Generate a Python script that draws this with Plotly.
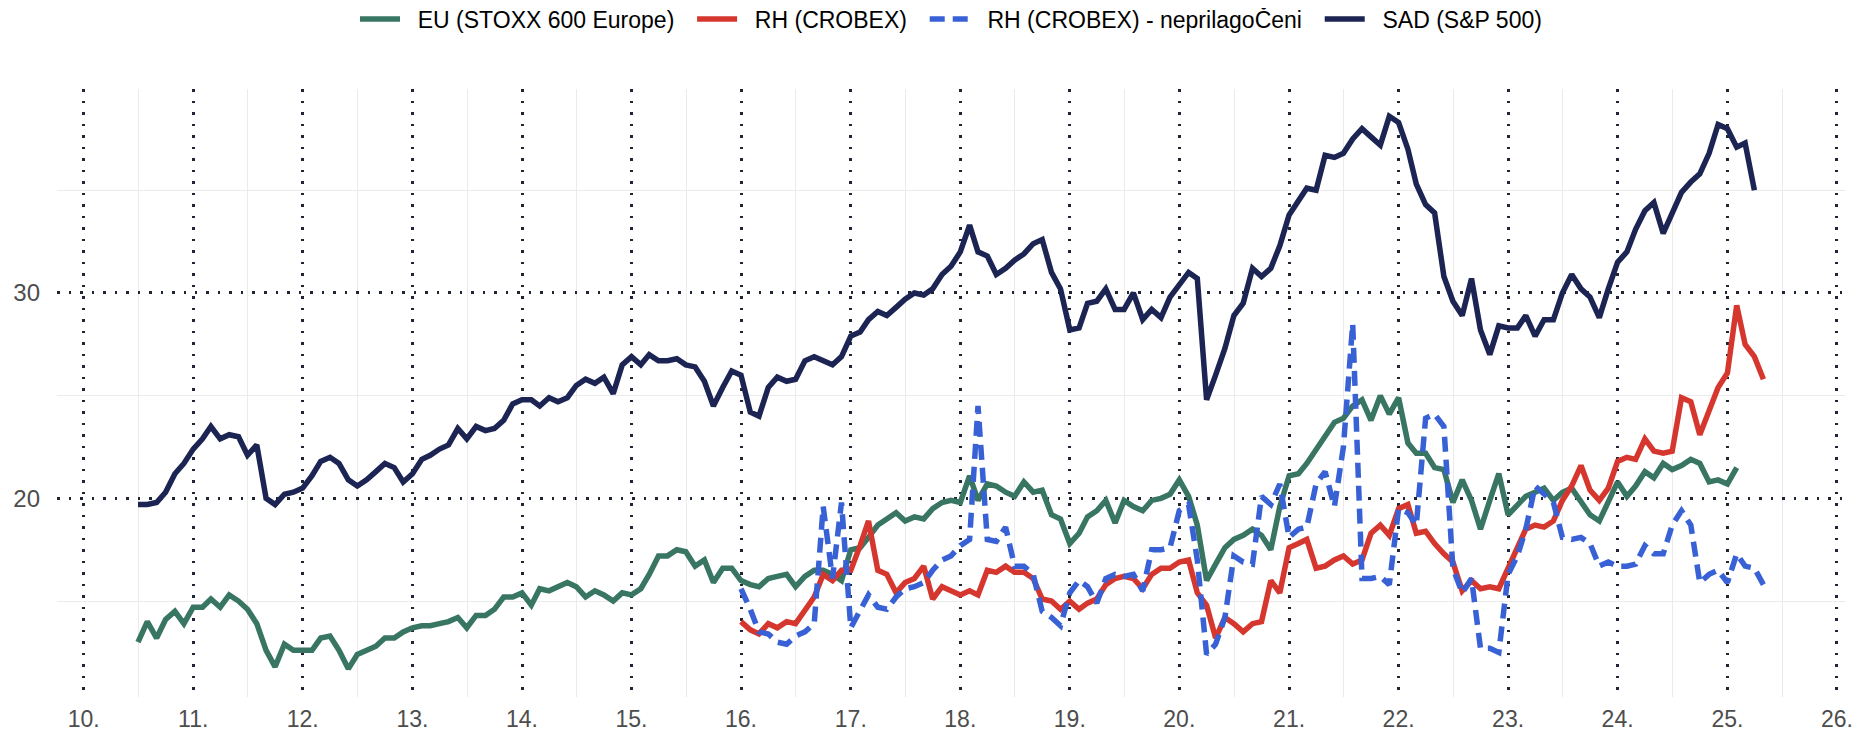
import pandas as pd
import plotly.graph_objects as go

# monthly values
# SAD (S&P 500): Jul 2010 - Apr 2025
sad_values = [
    19.7, 19.7, 19.8, 20.3, 21.2, 21.7,
    22.4, 22.9, 23.5, 22.9, 23.1, 23.0, 22.1, 22.6, 20.0, 19.7, 20.2, 20.3,
    20.5, 21.1, 21.8, 22.0, 21.7, 20.9, 20.6, 20.9, 21.3, 21.7, 21.5, 20.8,
    21.2, 21.9, 22.1, 22.4, 22.6, 23.4, 22.9, 23.5, 23.3, 23.4, 23.8, 24.6,
    24.8, 24.8, 24.5, 24.9, 24.7, 24.9, 25.5, 25.8, 25.6, 25.9, 25.1, 26.5,
    26.9, 26.5, 27.0, 26.7, 26.7, 26.8, 26.5, 26.4, 25.7, 24.5, 25.4, 26.2,
    26.0, 24.2, 24.0, 25.4, 25.9, 25.7, 25.8, 26.7, 26.9, 26.7, 26.5, 26.9,
    27.9, 28.1, 28.7, 29.1, 28.9, 29.3, 29.7, 30.0, 29.9, 30.2, 30.9, 31.3,
    32.0, 33.3, 32.0, 31.8, 30.9, 31.2, 31.6, 31.9, 32.4, 32.6, 31.0, 30.2,
    28.2, 28.3, 29.5, 29.6, 30.2, 29.2, 29.2, 30.0, 28.7, 29.2, 28.8, 29.8,
    30.4, 31.0, 30.7, 24.8, 26.0, 27.3, 28.9, 29.5, 31.2, 30.8, 31.2, 32.3,
    33.8, 34.5, 35.1, 35.0, 36.7, 36.6, 36.8, 37.5, 38.0, 37.6, 37.2, 38.6,
    38.3, 37.0, 35.3, 34.3, 33.9, 30.8, 29.6, 28.9, 30.7, 28.2, 27.0, 28.4,
    28.3, 28.3, 28.9, 27.9, 28.7, 28.7, 30.0, 30.9, 30.2, 29.8, 28.8, 30.2,
    31.5, 32.0, 33.1, 34.0, 34.4, 32.9, 33.9, 34.9, 35.4, 35.8, 36.8, 38.2,
    38.0, 37.1, 37.3, 35.0,
]

# EU (STOXX 600 Europe): Jul 2010 - Feb 2025
eu_values = [
    13.0, 14.0, 13.2, 14.1, 14.5, 13.9,
    14.7, 14.7, 15.1, 14.7, 15.3, 15.0, 14.6, 13.9, 12.6, 11.8, 12.9, 12.6,
    12.6, 12.6, 13.2, 13.3, 12.6, 11.7, 12.4, 12.6, 12.8, 13.2, 13.2, 13.5,
    13.7, 13.8, 13.8, 13.9, 14.0, 14.2, 13.7, 14.3, 14.3, 14.6, 15.2, 15.2,
    15.4, 14.8, 15.6, 15.5, 15.7, 15.9, 15.7, 15.2, 15.5, 15.3, 15.0, 15.4,
    15.3, 15.6, 16.3, 17.2, 17.2, 17.5, 17.4, 16.7, 17.0, 15.9, 16.6, 16.6,
    16.0, 15.8, 15.7, 16.1, 16.2, 16.3, 15.7, 16.2, 16.5, 16.5, 16.3, 16.0,
    17.5, 17.6, 18.1, 18.7, 19.0, 19.3, 18.9, 19.1, 19.0, 19.5, 19.8, 19.9,
    19.8, 21.1, 19.9, 20.7, 20.6, 20.3, 20.1, 20.8, 20.3, 20.4, 19.2, 19.0,
    17.8, 18.3, 19.1, 19.4, 19.9, 18.8, 19.9, 19.6, 19.4, 19.9, 20.0, 20.2,
    20.9, 20.1, 18.7, 16.0, 16.8, 17.6, 18.0, 18.2, 18.5, 18.2, 17.5, 19.6,
    21.1, 21.2, 21.7, 22.4, 23.1, 23.7, 23.9, 24.5, 24.8, 23.8, 25.0, 24.1,
    24.9, 22.7, 22.2, 22.2, 21.5, 21.4, 19.8, 20.9, 19.9, 18.5, 19.9, 21.2,
    19.2, 19.7, 20.1, 20.3, 20.5, 19.9, 20.3, 20.5, 19.8, 19.2, 18.9, 19.9,
    20.8, 20.1, 20.6, 21.3, 21.0, 21.7, 21.4, 21.6, 21.9, 21.7, 20.8, 20.9,
    20.7, 21.5,
]

# RH (CROBEX): Jan 2016 - May 2025
rh_values = [
    14.0, 13.6, 13.4, 13.9, 13.7, 14.0, 13.9, 14.6, 15.2, 16.3, 16.0, 16.5,
    16.5, 17.7, 18.9, 16.5, 16.3, 15.4, 15.9, 16.1, 16.7, 15.1, 15.7, 15.5,
    15.3, 15.5, 15.3, 16.5, 16.4, 16.7, 16.4, 16.4, 16.1, 15.1, 15.0, 14.6,
    15.0, 14.6, 14.9, 15.1, 15.8, 16.1, 16.2, 16.1, 15.6, 16.3, 16.6, 16.6,
    16.9, 17.0, 15.4, 14.8, 13.2, 14.2, 13.9, 13.5, 13.9, 14.0, 16.0, 15.4,
    17.6, 17.8, 18.0, 16.6, 16.7, 17.0, 17.2, 16.8, 17.0, 18.3, 18.7, 18.2,
    19.5, 19.7, 18.3, 18.4, 17.8, 17.3, 16.9, 15.5, 16.0, 15.6, 15.7, 15.6,
    16.6, 17.5, 18.5, 18.7, 18.6, 18.9, 19.9, 20.6, 21.6, 20.4, 19.9, 20.5,
    21.8, 22.0, 21.9, 22.9, 22.3, 22.2, 22.3, 24.9, 24.7, 23.1, 24.3, 25.4,
    26.1, 29.4, 27.5, 26.9, 25.8,
]

# RH (CROBEX) - neprilagoČeni: Jan 2016 - May 2025
rh_raw_values = [
    15.6, 14.6, 13.5, 13.4, 13.0, 12.9, 13.3, 13.5, 13.9, 19.6, 16.1, 19.8,
    13.7, 14.6, 15.3, 14.7, 14.6, 15.2, 15.6, 15.7, 15.9, 16.5, 17.0, 17.2,
    17.7, 18.0, 24.5, 18.0, 17.9, 18.6, 16.7, 16.7, 16.3, 14.5, 14.2, 13.8,
    15.4, 16.0, 15.7, 14.9, 16.1, 16.3, 16.2, 16.3, 15.5, 17.5, 17.5, 17.6,
    19.4, 19.7, 17.0, 12.4, 12.9, 14.2, 17.2, 16.9, 16.8, 20.1, 19.7, 20.7,
    18.1, 18.5, 18.6, 20.7, 21.3, 19.6, 22.5, 28.5, 16.1, 16.1, 16.2, 15.8,
    19.5, 19.3, 18.7, 23.9, 24.1, 23.5, 16.6, 15.4, 16.1, 12.7, 12.7, 12.5,
    16.3, 17.2, 18.5, 20.6, 20.2, 19.8, 18.1, 18.0, 18.1, 17.8, 16.7, 16.9,
    16.7, 16.7, 16.8, 17.7, 17.3, 17.3, 18.7, 19.4, 18.7, 15.9, 16.3, 16.5,
    15.9, 17.3, 16.7, 16.6, 15.8,
]

years = list(range(2010, 2027))
year_labels = [f"{y % 100}." for y in years]

sad_dates = pd.date_range("2010-07-01", periods=len(sad_values), freq="MS")
eu_dates = pd.date_range("2010-07-01", periods=len(eu_values), freq="MS")
rh_dates = pd.date_range("2016-01-01", periods=len(rh_values), freq="MS")
rh_raw_dates = pd.date_range("2016-01-01", periods=len(rh_raw_values), freq="MS")

# non-breaking spaces widen the legend entries like the original
pad_l = "\u00a0\u00a0"
pad_r = "\u00a0\u00a0"

fig = go.Figure()
fig.add_trace(go.Scatter(x=eu_dates, y=eu_values, mode="lines",
                         name=pad_l + "EU (STOXX 600 Europe)" + pad_r,
                         line=dict(color="#387563", width=5.5)))
fig.add_trace(go.Scatter(x=rh_dates, y=rh_values, mode="lines",
                         name=pad_l + "RH (CROBEX)" + pad_r,
                         line=dict(color="#D5372F", width=5.5)))
fig.add_trace(go.Scatter(x=rh_raw_dates, y=rh_raw_values, mode="lines",
                         name=pad_l + "RH (CROBEX) - neprilagoČeni" + pad_r,
                         line=dict(color="#3861D6", width=5.5, dash="15px,8px")))
fig.add_trace(go.Scatter(x=sad_dates, y=sad_values, mode="lines",
                         name=pad_l + "SAD (S&P 500)",
                         line=dict(color="#1B2452", width=5.5)))

fig.update_layout(
    template="none",
    width=1860, height=731,
    margin=dict(l=49, r=23, t=81, b=42, autoexpand=False),
    paper_bgcolor="white", plot_bgcolor="white",
    font=dict(family="Liberation Sans, Arial, sans-serif", size=23, color="#4D4D4D"),
    showlegend=True,
    legend=dict(orientation="h", x=0.5, xanchor="center", y=1.115, yanchor="middle",
                itemwidth=40,
                font=dict(size=23, color="black"), bgcolor="rgba(0,0,0,0)"),
)

fig.update_xaxes(
    type="date",
    range=["2009-10-04", "2026-01-28"],
    tickmode="array",
    tickvals=[f"{y}-01-01" for y in years],
    ticktext=year_labels,
    ticks="", showline=False, zeroline=False,
    showgrid=True, gridcolor="#1F2535", gridwidth=2.5, griddash="2.5px,9px",
    minor=dict(tickvals=[f"{y}-07-02" for y in years[:-1]], showgrid=True,
               gridcolor="#EBEBEB", gridwidth=1.2, griddash="solid"),
    ticklabelstandoff=6,
    tickfont=dict(size=23, color="#4D4D4D"),
)

fig.update_yaxes(
    range=[10.33, 39.93],
    tickmode="array",
    tickvals=[20, 30],
    ticktext=["20", "30"],
    ticks="", showline=False, zeroline=False,
    showgrid=True, gridcolor="#1F2535", gridwidth=2.5, griddash="2.5px,9px",
    minor=dict(tickvals=[15, 25, 35], showgrid=True,
               gridcolor="#EBEBEB", gridwidth=1.2, griddash="solid"),
    ticklabelstandoff=16,
    tickfont=dict(size=24, color="#4D4D4D"),
)

fig.write_html("out.html")
